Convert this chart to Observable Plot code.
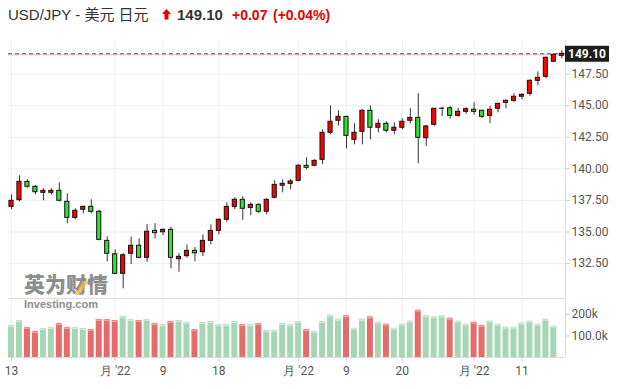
<!DOCTYPE html>
<html><head><meta charset="utf-8">
<script src="https://cdn.jsdelivr.net/npm/d3@7"></script>
<script src="https://cdn.jsdelivr.net/npm/@observablehq/plot@0.6"></script>
<style>
body{margin:0;background:#fff;width:626px;height:389px;overflow:hidden;position:relative;font-family:"Liberation Sans",Arial,"Noto Sans CJK SC",sans-serif;}
#title{position:absolute;left:0;top:0;width:626px;height:32px;}
#title span{position:absolute;white-space:nowrap;}
.abs{position:absolute;left:0;}
.wm{position:absolute;color:#8e8e8e;white-space:nowrap;}
</style></head>
<body>
<div class="wm" style="left:24px;top:273px;font-family:'Noto Sans CJK SC';font-weight:900;font-size:21px;line-height:21px;height:21px;">英为财情</div>
<div class="wm" style="left:79px;top:281px;width:5px;height:14px;background:#f6b73c;opacity:.8;transform:skewX(-30deg);"></div>
<div class="wm" style="left:24px;top:299px;font-family:'Liberation Sans';font-weight:bold;font-size:11px;line-height:11px;height:11px;">Investing.com</div>
<div id="title">
  <span style="left:8px;top:6px;font-size:15px;line-height:18px;color:#333">USD/JPY - 美元 日元</span>
  <svg style="position:absolute;left:162px;top:9px" width="9" height="11"><polygon points="4.5,0 0,5 2.5,5 2.5,10.5 6.5,10.5 6.5,5 9,5" fill="#e60000"/></svg>
  <span style="left:177px;top:6px;font-size:15px;line-height:18px;font-weight:bold;color:#333">149.10</span>
  <span style="left:232px;top:7px;font-size:14px;line-height:17px;font-weight:bold;color:#e60000">+0.07</span>
  <span style="left:273px;top:7px;font-size:14px;line-height:17px;font-weight:bold;color:#e60000">(+0.04%)</span>
</div>
<div id="price" class="abs" style="top:32px"></div>
<div id="vol" class="abs" style="top:297px"></div>
<script>
const open  = [136.99,137.52,138.97,138.58,138.10,138.10,138.26,137.39,136.12,136.76,136.99,136.60,134.30,133.24,131.69,133.28,133.91,132.96,135.09,134.98,135.17,132.85,133.09,133.51,133.40,134.30,135.09,135.97,136.99,137.55,136.91,137.15,136.60,137.71,138.66,138.81,139.05,140.24,140.24,140.71,142.85,143.80,144.11,142.29,142.93,144.59,143.25,143.56,143.01,143.25,143.80,144.03,142.42,143.48,144.75,144.79,144.19,144.51,144.67,144.59,144.19,144.75,145.22,145.38,145.70,145.93,146.96,147.28,148.47,148.94];
const high  = [137.94,139.45,139.13,138.66,138.42,138.42,138.89,138.02,136.84,137.04,137.55,136.70,134.62,133.59,133.28,134.59,134.46,135.59,135.67,135.25,135.38,133.30,133.99,133.77,134.78,135.57,136.04,137.31,137.71,137.79,137.31,137.23,137.63,139.07,139.13,139.15,140.32,140.87,140.71,143.09,144.98,144.59,144.15,143.56,144.67,144.98,143.88,143.72,143.64,143.96,144.75,145.93,143.43,144.79,144.87,144.93,144.79,144.83,145.22,144.64,144.95,145.19,145.46,145.93,145.93,147.04,147.67,148.86,149.10,149.34];
const low   = [136.76,137.39,138.47,137.94,137.47,137.94,137.39,135.65,135.97,136.44,136.44,134.30,132.64,131.65,130.51,132.43,132.88,132.61,134.46,134.72,132.09,131.82,132.93,132.64,133.06,133.99,134.78,135.78,136.76,135.93,136.28,136.44,136.36,137.63,138.10,138.34,138.97,139.92,140.16,140.32,142.71,143.40,141.58,141.90,141.90,142.30,142.85,142.85,142.69,143.09,143.56,140.40,141.76,143.35,144.14,143.92,144.08,144.30,144.24,143.98,143.58,144.43,144.75,145.25,145.46,145.74,146.57,147.12,148.39,148.70];
const close = [137.47,138.97,138.58,138.15,138.26,138.26,137.47,136.12,136.68,136.99,136.60,134.38,133.28,131.69,133.16,133.91,132.96,135.02,134.91,135.17,132.96,133.04,133.51,133.32,134.30,135.09,135.97,136.99,137.55,136.84,137.15,136.60,137.55,138.73,138.81,139.00,140.24,140.08,140.63,142.85,143.72,144.11,142.61,142.85,144.59,143.25,143.56,143.01,143.25,143.72,144.03,142.45,143.35,144.75,144.76,144.19,144.51,144.72,144.51,144.11,144.67,145.14,145.38,145.70,145.85,146.96,147.20,148.78,149.02,149.10];
// volume in thousands (no bar yet for the last session)
const volume = [149,172,140,121,135,140,158,140,140,135,130,177,177,172,191,177,172,177,158,153,167,172,163,130,163,167,153,153,167,153,153,158,126,126,158,153,167,130,122,167,197,178,194,136,178,189,164,155,136,155,169,220,194,189,194,183,169,155,164,150,169,155,141,141,160,169,155,178,146];
const tickIndex  = [0,13,19,26,36,42,49,58,64];
const tickLabels = ["13","月 '22","9","18","月 '22","9","20","月 '22","11"];
const priceTicks = [132.5,135,137.5,140,142.5,145,147.5];
const volTicks = [100,200];
const volTickLabels = ["100.0k","200k"];
const lastPrice = 149.10;

const candles = close.map((c,i)=>({i, o:open[i], h:high[i], l:low[i], c, up:c>=open[i]}));
const vols = volume.map((v,i)=>({i, v, up: close[i]>=open[i]}));

const xDomain = [-0.376, 69.46];
const style = {fontFamily:"Roboto, 'Liberation Sans', sans-serif", fontSize:"12px", color:"#555", background:"transparent", overflow:"visible"};
const upFill = "#ff0000", downFill = "#2fe22f";

const pricePlot = Plot.plot({
  width:626, height:265, marginLeft:8, marginRight:61, marginTop:8, marginBottom:0,
  style,
  x:{domain:xDomain, axis:null},
  y:{domain:[129.82,150.15], axis:null},
  marks:[
    Plot.gridY(priceTicks,{stroke:"#efefef", strokeOpacity:1}),
    Plot.gridX(tickIndex,{stroke:"#efefef", strokeOpacity:1}),
    Plot.ruleX([xDomain[1]],{stroke:"#dcdcdc"}),
    Plot.ruleY([lastPrice],{stroke:"#f5b3b3", dy:1}),
    Plot.ruleY([lastPrice],{stroke:"#555", strokeDasharray:"4,3"}),
    Plot.ruleX(candles,{x:"i", y1:"l", y2:"h", stroke:"#333", strokeWidth:1}),
    Plot.rect(candles,{x1:d=>d.i-0.26, x2:d=>d.i+0.26, y1:"o", y2:"c", fill:d=>d.up?upFill:downFill, stroke:"#111", strokeWidth:1}),
    Plot.axisY(priceTicks,{anchor:"right", label:null, tickSize:4, tickPadding:2, tickFormat:d3.format(".2f"), stroke:"#ccc", fill:"#555"})
  ]
});
document.getElementById("price").append(pricePlot);
{
  const svg = d3.select(pricePlot);
  const yy = pricePlot.scale("y").apply(lastPrice);
  const g = svg.append("g");
  g.append("rect").attr("x",565).attr("y",yy-7.5).attr("width",44).attr("height",16).attr("fill","#1e1e1e");
  g.append("text").attr("x",587).attr("y",yy+0.5).attr("dy","0.35em").attr("text-anchor","middle")
    .attr("fill","#fff").attr("font-weight","bold").attr("font-size",12).text(d3.format(".2f")(lastPrice));
}

const volPlot = Plot.plot({
  width:626, height:92, marginLeft:8, marginRight:61, marginTop:1, marginBottom:32,
  style,
  x:{domain:xDomain, axis:null},
  y:{domain:[0,274.4], axis:null},
  marks:[
    Plot.gridX(tickIndex,{stroke:"#efefef", strokeOpacity:1}),
    Plot.ruleY([274.4],{stroke:"#dcdcdc"}),
    Plot.rect(vols,{x1:d=>d.i-0.375, x2:d=>d.i+0.375, y1:0, y2:"v", fill:d=>d.up?"#a7d6b4":"#e46c6c"}),
    Plot.ruleY(vols,{x1:d=>d.i-0.375, x2:d=>d.i+0.375, y:"v", dy:0.75, stroke:d=>d.up?"#d2ecd9":"#f3a9a9", strokeWidth:1.5}),
    Plot.ruleY([0],{stroke:"#dcdcdc"}),
    Plot.ruleX([xDomain[1]],{stroke:"#dcdcdc"}),
    Plot.axisY(volTicks,{anchor:"right", label:null, tickSize:4, tickPadding:2, tickFormat:d=>volTickLabels[volTicks.indexOf(d)], stroke:"#ccc", fill:"#555"}),
    Plot.axisX(tickIndex,{anchor:"bottom", label:null, tickSize:4, tickPadding:5, tickFormat:d=>tickLabels[tickIndex.indexOf(d)], stroke:"#ccc", fill:"#555"})
  ]
});
document.getElementById("vol").append(volPlot);
</script>
</body></html>
